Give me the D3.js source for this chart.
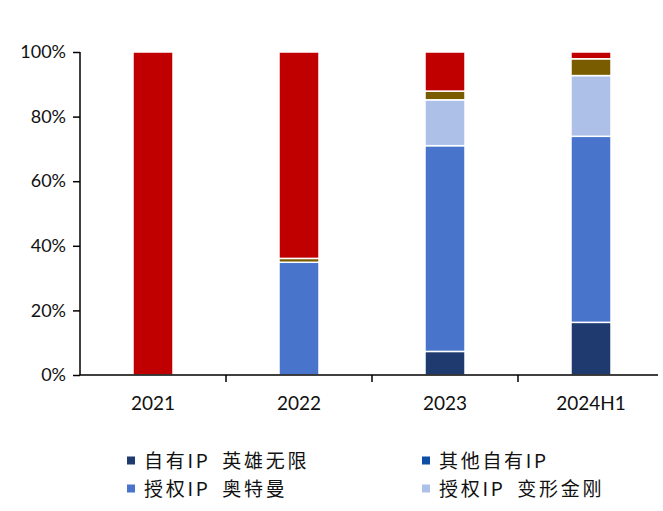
<!DOCTYPE html>
<html><head><meta charset="utf-8">
<script src="https://cdn.jsdelivr.net/npm/d3@7"></script>
<style>body{margin:0;background:#fff;} svg{display:block;}</style>
</head><body><div id="chart"></div>
<script>
const categories = ["2021", "2022", "2023", "2024H1"];
const seriesNames = ["自有IP 英雄无限", "其他自有IP", "授权IP 奥特曼", "授权IP 变形金刚", "其他授权IP", "其他"];
const seriesColors = ["#1f3a6e", "#0d4ea6", "#4874cb", "#adc0e8", "#7a5c00", "#c00000"];
const heroValues   = [0, 0, 7.3, 16.3];
const otherOwnValues = [0, 0, 0, 0];
const ultramanValues = [0, 34.9, 63.7, 57.6];
const transformersValues = [0, 0, 14.2, 18.8];
const otherLicValues = [0, 1.2, 2.7, 5.2];
const otherValues = [100, 63.9, 12.1, 2.1];
const yTicks = [0, 20, 40, 60, 80, 100];
const legendItems = [0, 1, 2, 3];

const W = 663, H = 511;
const svg = d3.select("#chart").append("svg").attr("width", W).attr("height", H);
const x = d3.scaleBand().domain(categories).range([80, 664]).paddingInner(0.726).paddingOuter(0.363);
const y = d3.scaleLinear().domain([0, 100]).range([375, 52]);

const valuesArr = [heroValues, otherOwnValues, ultramanValues, transformersValues, otherLicValues, otherValues];
const rows = categories.map((c, i) => {
  const r = {cat: c};
  seriesNames.forEach((s, k) => r[s] = valuesArr[k][i]);
  return r;
});
const stacked = d3.stack().keys(seriesNames)(rows);

const g = svg.append("g");
stacked.forEach((layer, k) => {
  g.selectAll(null).data(layer.filter(d => d[1] - d[0] > 0)).enter().append("rect")
    .attr("x", d => x(d.data.cat))
    .attr("width", x.bandwidth())
    .attr("y", d => y(d[1]))
    .attr("height", d => y(d[0]) - y(d[1]))
    .attr("fill", seriesColors[k])
    .attr("stroke", "#fff")
    .attr("stroke-width", 1.5);
});

// Y axis
const yAxis = d3.axisLeft(y).tickValues(yTicks).tickFormat(d => d + "%").tickSize(7).tickPadding(7);
const ya = svg.append("g").attr("transform", "translate(80,0)").call(yAxis);
ya.select(".domain").attr("stroke", "#000").attr("stroke-width", 1.5).attr("d", "M0,52V375");
ya.selectAll(".tick line").attr("stroke", "#000").attr("stroke-width", 1.5);
ya.selectAll("text").attr("font-family", "Lato, 'Open Sans', sans-serif").attr("font-size", 18).attr("fill", "#111");

// X axis
const xa = svg.append("g").attr("transform", "translate(0,375)");
xa.append("line").attr("x1", 80).attr("x2", 658).attr("stroke", "#000").attr("stroke-width", 1.5);
[1, 2, 3].forEach(i => {
  const tx = x(categories[i]) - (x.step() - x.bandwidth()) / 2;
  xa.append("line").attr("x1", tx).attr("x2", tx).attr("y1", 0).attr("y2", 7).attr("stroke", "#000").attr("stroke-width", 1.5);
});
xa.selectAll("text.cat").data(categories).enter().append("text")
  .attr("class", "cat")
  .attr("x", d => x(d) + x.bandwidth() / 2)
  .attr("y", 35)
  .attr("text-anchor", "middle")
  .attr("font-family", "Lato, 'Open Sans', sans-serif")
  .attr("font-size", 19)
  .attr("fill", "#111")
  .text(d => d);

// Legend
const lg = svg.append("g");
const legX = [127, 422], legY = [460.5, 488.5];
legendItems.forEach((k, i) => {
  const col = i % 2, row = Math.floor(i / 2);
  lg.append("rect").attr("x", legX[col]).attr("y", legY[row] - 4).attr("width", 8).attr("height", 8).attr("fill", seriesColors[k]);
  lg.append("text").attr("x", legX[col] + 17).attr("y", legY[row] + 7)
    .attr("font-family", "'Noto Sans CJK SC', sans-serif").attr("font-size", 19)
    .attr("letter-spacing", "2.7px").attr("word-spacing", "5px").attr("fill", "#111")
    .text(seriesNames[k]);
});
</script></body></html>
